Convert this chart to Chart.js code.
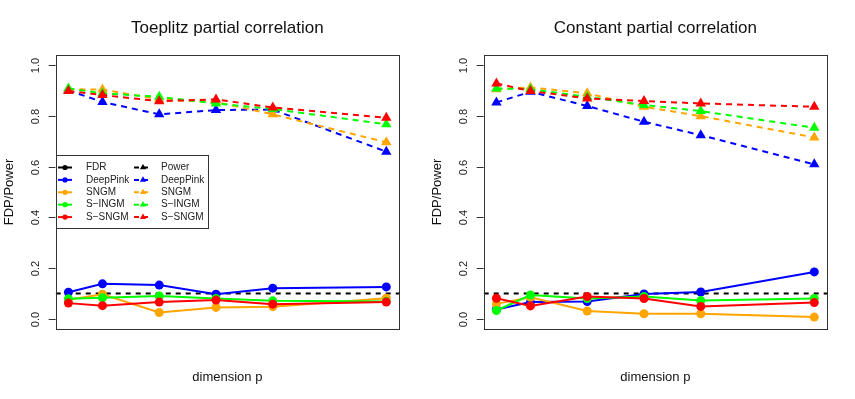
<!DOCTYPE html>
<html lang="en">
<head>
  <meta charset="UTF-8" />
  <title>FDP/Power vs dimension p</title>
  <script src="https://cdn.jsdelivr.net/npm/chart.js"></script>
  <style>
    body { margin: 0; background: #fff; }
    canvas { position: absolute; top: 0; }
  </style>
</head>
<body>
  <canvas id="toeplitz" width="427" height="399" style="left:0"></canvas>
  <canvas id="constant" width="427" height="399" style="left:428px"></canvas>

  <script>
    // x positions (dimension p), no tick labels are shown on the plot
    const pValues = [40, 100, 200, 300, 400, 600];
    const yTicks = [0, 0.2, 0.4, 0.6, 0.8, 1.0];
    const methods = ['DeepPink', 'SNGM', 'S\u2212INGM', 'S\u2212SNGM'];
    const colors = ['#0000FF', '#FFA500', '#00FF00', '#FF0000'];
    const fdrTarget = 0.1;

    // Toeplitz partial correlation
    const toeFdrDeepPink = [0.105, 0.138, 0.133, 0.097, 0.121, 0.126];
    const toeFdrSngm     = [0.075, 0.097, 0.025, 0.045, 0.048, 0.081];
    const toeFdrSingm    = [0.079, 0.083, 0.090, 0.080, 0.071, 0.068];
    const toeFdrSsngm    = [0.062, 0.052, 0.066, 0.074, 0.058, 0.066];
    const toePowDeepPink = [0.900, 0.855, 0.806, 0.823, 0.825, 0.659];
    const toePowSngm     = [0.905, 0.904, 0.865, 0.855, 0.806, 0.696];
    const toePowSingm    = [0.908, 0.889, 0.875, 0.849, 0.827, 0.767];
    const toePowSsngm    = [0.898, 0.882, 0.858, 0.865, 0.833, 0.793];

    // Constant partial correlation
    const conFdrDeepPink = [0.037, 0.066, 0.068, 0.098, 0.106, 0.185];
    const conFdrSngm     = [0.059, 0.085, 0.031, 0.020, 0.020, 0.007];
    const conFdrSingm    = [0.033, 0.094, 0.080, 0.088, 0.072, 0.080];
    const conFdrSsngm    = [0.081, 0.051, 0.088, 0.080, 0.049, 0.064];
    const conPowDeepPink = [0.853, 0.895, 0.839, 0.777, 0.724, 0.609];
    const conPowSngm     = [0.905, 0.912, 0.889, 0.836, 0.799, 0.715];
    const conPowSingm    = [0.908, 0.905, 0.875, 0.843, 0.819, 0.753];
    const conPowSsngm    = [0.928, 0.898, 0.869, 0.859, 0.849, 0.836];

    const FONT = '"Liberation Sans", Arial, sans-serif';
    // R style 4% range extension
    const xMin = pValues[0] - 0.04 * (pValues[5] - pValues[0]);
    const xMax = pValues[5] + 0.04 * (pValues[5] - pValues[0]);

    function buildDatasets(fdr, pow) {
      const sets = [];
      methods.forEach((m, i) => {
        sets.push({
          label: m + ' FDR',
          data: pValues.map((p, k) => ({ x: p, y: fdr[i][k] })),
          borderColor: colors[i],
          backgroundColor: colors[i],
          borderWidth: 2,
          pointStyle: 'circle',
          pointRadius: 4.5,
          pointBorderWidth: 0,
          order: 10 - i
        });
        sets.push({
          label: m + ' Power',
          data: pValues.map((p, k) => ({ x: p, y: pow[i][k] })),
          borderColor: colors[i],
          backgroundColor: colors[i],
          borderWidth: 2,
          borderDash: [6, 5],
          pointStyle: 'triangle',
          pointRadius: 6,
          pointBorderWidth: 0,
          order: 10 - i
        });
      });
      sets.push({
        label: 'target',
        data: [{ x: xMin, y: fdrTarget }, { x: xMax, y: fdrTarget }],
        borderColor: '#000',
        borderWidth: 2,
        borderDash: [5, 5],
        pointRadius: 0,
        order: 20
      });
      return sets;
    }

    function drawLegend(ctx, a) {
      const left = a.left, top = 155.5, right = 208, bottom = 228.5;
      ctx.fillStyle = '#fff';
      ctx.fillRect(left, top, right - left, bottom - top);
      ctx.strokeStyle = '#333';
      ctx.lineWidth = 1;
      ctx.strokeRect(Math.round(left) + 0.5, top, right - Math.round(left), bottom - top);

      const names = ['FDR'].concat(methods);
      const cols = ['#000'].concat(colors);
      ctx.font = '10px ' + FONT;
      ctx.textBaseline = 'middle';
      ctx.textAlign = 'left';
      names.forEach((n, r) => {
        const y = 167.5 + r * 12.4;
        // left column: FDR, solid line with dot
        ctx.strokeStyle = cols[r];
        ctx.fillStyle = cols[r];
        ctx.lineWidth = 2;
        ctx.setLineDash([]);
        ctx.beginPath(); ctx.moveTo(58, y); ctx.lineTo(72, y); ctx.stroke();
        ctx.beginPath(); ctx.arc(65, y, 2.6, 0, Math.PI * 2); ctx.fill();
        ctx.fillStyle = '#222';
        ctx.fillText(n, 86, y);
        // right column: Power, dashed line with triangle
        ctx.strokeStyle = cols[r];
        ctx.fillStyle = cols[r];
        ctx.setLineDash([5, 4]);
        ctx.beginPath(); ctx.moveTo(134, y); ctx.lineTo(151, y); ctx.stroke();
        ctx.setLineDash([]);
        const s = 3.6;
        ctx.beginPath();
        ctx.moveTo(143, y - s);
        ctx.lineTo(143 + s * 0.87, y + s * 0.5);
        ctx.lineTo(143 - s * 0.87, y + s * 0.5);
        ctx.closePath(); ctx.fill();
        ctx.fillStyle = '#222';
        ctx.fillText(r === 0 ? 'Power' : n, 161, y);
      });
    }

    function decorPlugin(title, withLegend) {
      return {
        id: 'decor',
        afterDraw(chart) {
          const { ctx, chartArea: a, scales: { y } } = chart;
          ctx.save();
          // plot box
          ctx.strokeStyle = '#333';
          ctx.lineWidth = 1;
          ctx.strokeRect(Math.round(a.left) + 0.5, Math.round(a.top) + 0.5,
            Math.round(a.right - a.left), Math.round(a.bottom - a.top));
          // y axis ticks + rotated labels
          ctx.fillStyle = '#222';
          ctx.font = '11px ' + FONT;
          ctx.textAlign = 'center';
          ctx.textBaseline = 'middle';
          yTicks.forEach(v => {
            const py = Math.round(y.getPixelForValue(v)) + 0.5;
            ctx.beginPath();
            ctx.moveTo(a.left - 7, py);
            ctx.lineTo(a.left, py);
            ctx.stroke();
            ctx.save();
            ctx.translate(36, py);
            ctx.rotate(-Math.PI / 2);
            ctx.fillText(v.toFixed(1), 0, 0);
            ctx.restore();
          });
          // titles
          const cx = (a.left + a.right) / 2;
          ctx.fillStyle = '#111';
          ctx.font = '17px ' + FONT;
          ctx.fillText(title, cx, 28.5);
          ctx.font = '13px ' + FONT;
          ctx.fillText('dimension p', cx, 377);
          ctx.save();
          ctx.translate(9, (a.top + a.bottom) / 2);
          ctx.rotate(-Math.PI / 2);
          ctx.fillText('FDP/Power', 0, 0);
          ctx.restore();
          if (withLegend) drawLegend(ctx, a);
          ctx.restore();
        }
      };
    }

    function makeChart(id, title, fdr, pow, withLegend) {
      const ctx = document.getElementById(id).getContext('2d');
      return new Chart(ctx, {
        type: 'line',
        data: { datasets: buildDatasets(fdr, pow) },
        options: {
          responsive: false,
          animation: false,
          events: [],
          layout: { padding: { left: 55.7, top: 55, right: 28, bottom: 70 } },
          plugins: { legend: { display: false }, tooltip: { enabled: false } },
          elements: { line: { tension: 0 } },
          scales: {
            x: { type: 'linear', display: false, min: xMin, max: xMax },
            y: { type: 'linear', display: false, min: -0.04, max: 1.04 }
          }
        },
        plugins: [decorPlugin(title, withLegend)]
      });
    }

    makeChart('toeplitz', 'Toeplitz partial correlation',
      [toeFdrDeepPink, toeFdrSngm, toeFdrSingm, toeFdrSsngm],
      [toePowDeepPink, toePowSngm, toePowSingm, toePowSsngm], true);
    makeChart('constant', 'Constant partial correlation',
      [conFdrDeepPink, conFdrSngm, conFdrSingm, conFdrSsngm],
      [conPowDeepPink, conPowSngm, conPowSingm, conPowSsngm], false);
  </script>
</body>
</html>
